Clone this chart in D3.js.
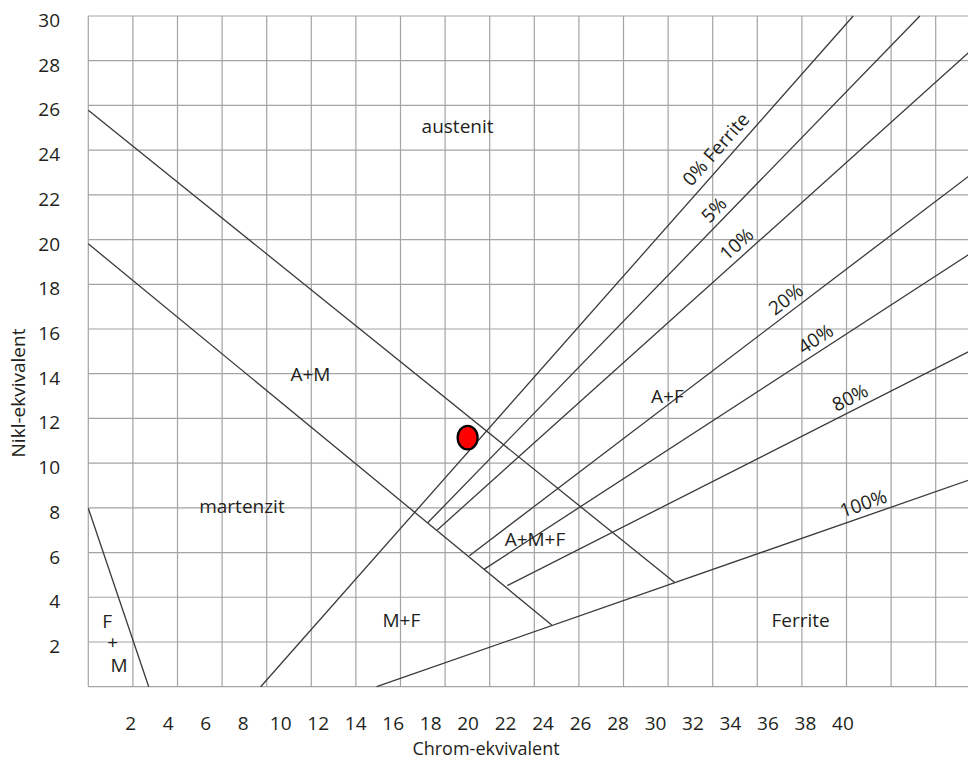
<!DOCTYPE html>
<html>
<head>
<meta charset="utf-8">
<script src="https://cdn.jsdelivr.net/npm/d3@7"></script>
<style>
  html, body { margin: 0; padding: 0; background: #fff; }
  svg { display: block; }
  text { font-family: "Open Sans", "Noto Sans", sans-serif; fill: #231f20; }
</style>
</head>
<body>
<svg id="chart" width="968" height="760"></svg>
<script>
// Schaeffler-type constitution diagram: Cr-equivalent vs Ni-equivalent

// grid values (both axes in steps of 2)
const gridX = d3.range(0, 41, 2);
const gridY = d3.range(0, 31, 2);

// tick labels
const xTickValues = d3.range(2, 41, 2);
const yTickValues = d3.range(2, 31, 2);

// phase boundaries: [Cr-eq, Ni-eq] end points
const boundaryAM   = [[0, 25.78], [26.31, 4.65]];   // austenite / A+M
const boundaryMart = [[0, 19.81], [20.78, 2.76]];   // A+M / martensite
const boundaryFM   = [[0, 7.98], [2.71, 0]];        // martensite / F+M

// iso-ferrite lines
const ferrite0   = [[7.73, 0], [34.3, 30]];
const ferrite5   = [[15.22, 7.33], [37.29, 30]];
const ferrite10  = [[15.65, 7.01], [40, 28.83]];
const ferrite20  = [[17.09, 5.86], [40, 23.23]];
const ferrite40  = [[17.76, 5.26], [40, 19.67]];
const ferrite80  = [[18.79, 4.52], [40, 15.25]];
const ferrite100 = [[12.93, 0], [40, 9.42]];

// labels on the iso-ferrite lines: text and Cr-eq where it sits
const ferriteLines  = [ferrite0, ferrite5, ferrite10, ferrite20, ferrite40, ferrite80, ferrite100];
const ferriteTexts  = ["0% Ferrite", "5%", "10%", "20%", "40%", "80%", "100%"];
const ferriteLabelX = [28.64, 28.46, 29.45, 31.62, 32.92, 34.42, 34.94];

// phase-field names and their anchor points [Cr-eq, Ni-eq]
const regionNames  = ["austenit", "A+M", "martenzit", "A+F", "A+M+F", "M+F", "Ferrite", "F", "+", "M"];
const regionPoints = [[16.56, 24.76], [9.96, 13.67], [6.89, 7.77], [25.97, 12.69], [20.03, 6.29],
                      [14.04, 2.67], [31.94, 2.67], [0.84, 2.62], [1.09, 1.69], [1.38, 0.66]];

// the measured alloy
const alloyPoint = [17.01, 11.14];

const svg = d3.select("#chart");

const x = d3.scaleLinear().domain([0, 40]).range([88.3, 980.3]);
const y = d3.scaleLinear().domain([0, 30]).range([686.7, 16]);
// the printed Cr-eq numbering runs on its own spacing below the grid
const xLabel = d3.scaleLinear().domain([2, 40]).range([130.3, 842.4]);

// grid
const grid = svg.append("g").attr("stroke", "#a4a4a4").attr("stroke-width", 1.2);
grid.selectAll("line.v").data(gridX).join("line")
  .attr("class", "v")
  .attr("x1", d => x(d)).attr("x2", d => x(d))
  .attr("y1", y(0)).attr("y2", y(30));
grid.selectAll("line.h").data(gridY).join("line")
  .attr("class", "h")
  .attr("x1", x(0)).attr("x2", x(40))
  .attr("y1", d => y(d)).attr("y2", d => y(d));

// boundary and iso-ferrite lines
const allLines = [boundaryAM, boundaryMart, boundaryFM].concat(ferriteLines);
const lineGen = d3.line().x(d => x(d[0])).y(d => y(d[1]));
svg.append("g").selectAll("path").data(allLines).join("path")
  .attr("d", lineGen)
  .attr("fill", "none")
  .attr("stroke", "#3a3a3a")
  .attr("stroke-width", 1.3);

// labels along iso-ferrite lines
function yOnLine(seg, cx) {
  const [[x0, y0], [x1, y1]] = seg;
  return y0 + (y1 - y0) * (cx - x0) / (x1 - x0);
}
svg.append("g").selectAll("text").data(ferriteLines).join("text")
  .each(function (seg, i) {
    const cx = ferriteLabelX[i];
    const cy = yOnLine(seg, cx);
    const ang = Math.atan2(y(seg[1][1]) - y(seg[0][1]), x(seg[1][0]) - x(seg[0][0])) * 180 / Math.PI;
    d3.select(this)
      .attr("transform", `translate(${x(cx)},${y(cy)}) rotate(${ang})`)
      .attr("text-anchor", "middle")
      .attr("dy", i === 0 ? -8 : -6)
      .attr("font-size", 19)
      .text(ferriteTexts[i]);
  });

// phase-field names
svg.append("g").selectAll("text").data(regionNames).join("text")
  .attr("x", (d, i) => x(regionPoints[i][0]))
  .attr("y", (d, i) => y(regionPoints[i][1]))
  .attr("text-anchor", "middle")
  .attr("font-size", 19)
  .text(d => d);

// alloy marker
svg.append("ellipse")
  .attr("cx", x(alloyPoint[0]))
  .attr("cy", y(alloyPoint[1]))
  .attr("rx", 10).attr("ry", 11.8)
  .attr("fill", "#ff0000")
  .attr("stroke", "#000")
  .attr("stroke-width", 2.2);

// axes (labels only)
const yAxis = svg.append("g")
  .attr("transform", "translate(60,0)")
  .call(d3.axisLeft(y).tickValues(yTickValues).tickSize(0).tickPadding(0));
yAxis.select(".domain").remove();
yAxis.selectAll("text")
  .attr("font-size", 19).attr("font-family", null).attr("fill", "#231f20")
  .attr("dy", "0.55em");

const xAxis = svg.append("g")
  .attr("transform", "translate(0,716)")
  .call(d3.axisBottom(xLabel).tickValues(xTickValues).tickSize(0).tickPadding(0));
xAxis.select(".domain").remove();
xAxis.selectAll("text")
  .attr("font-size", 19).attr("font-family", null).attr("fill", "#231f20");

// axis titles
svg.append("text")
  .attr("x", 486).attr("y", 754.5)
  .attr("text-anchor", "middle")
  .attr("font-size", 18)
  .text("Chrom-ekvivalent");

svg.append("text")
  .attr("transform", "translate(25,393) rotate(-90)")
  .attr("text-anchor", "middle")
  .attr("font-size", 19)
  .text("Nikl-ekvivalent");
</script>
</body>
</html>
